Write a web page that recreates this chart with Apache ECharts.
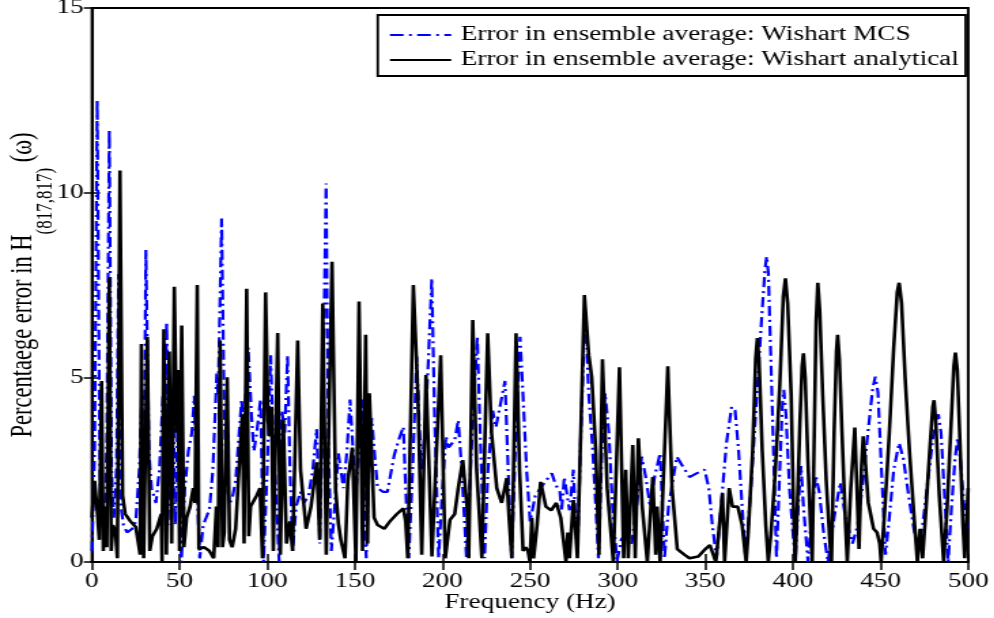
<!DOCTYPE html>
<html>
<head>
<meta charset="utf-8">
<script src="https://cdn.jsdelivr.net/npm/echarts@6/dist/echarts.min.js"></script>
<style>
html,body{margin:0;padding:0;background:#fff;overflow:hidden}
#wrap{width:994px;height:618px;overflow:hidden}
#c{width:731px;height:618px;transform:scaleX(1.36);transform-origin:0 0}
</style>
</head>
<body>
<div id="wrap"><div id="c"></div></div>
<script>
const xTicks = [0, 50, 100, 150, 200, 250, 300, 350, 400, 450, 500];
const yTicks = [0, 5, 10, 15];
const seriesNames = ['Error in ensemble average: Wishart MCS', 'Error in ensemble average: Wishart analytical'];

// [frequency (Hz), percentage error]
const mcsData = [[0,0.3],[1.5,3.0],[3.0,12.5],[4.5,2.5],[5.5,1.2],[6.5,1.5],[7.5,1.0],[8.5,3.5],[9.9,11.7],[11.2,2.5],[12.5,1.2],[14,2.5],[15.2,7.8],[16.5,1.5],[18,1.0],[20,0.8],[23,0.9],[25,1.1],[27,2.5],[28.5,4.5],[29.5,1.5],[30.8,8.45],[32.5,3.0],[34,2.0],[36.5,1.6],[38.5,2.5],[40.5,4.5],[41.5,2.5],[42.6,6.5],[44,3.0],[45,1.0],[46.5,4.0],[47.5,1.0],[49.5,4.8],[51,0],[53,2.0],[55,3.0],[57,3.5],[58.4,4.5],[60,2.0],[61.5,0.1],[63.5,1.0],[66,1.3],[67,1.4],[69,2.5],[71.2,5.1],[72,4.5],[74,9.3],[75.5,4.0],[76.9,2.2],[78.5,1.6],[80,1.7],[82,2.2],[84,3.5],[85.4,4.4],[86.5,3.5],[89.2,5.8],[91,4.0],[92.4,3.0],[94,3.5],[96.2,4.4],[97.9,0],[100,2.5],[102,5.6],[103.5,3.1],[105,2.0],[106.8,0],[108.4,4.1],[110,3.5],[111.6,5.6],[113,2.5],[114.5,0.3],[116.5,1.5],[119,1.9],[121,1.6],[123.6,1.8],[126,2.5],[128.2,3.6],[129,2.5],[130,0.5],[131.5,3.5],[133.6,10.25],[135,3.0],[136.6,0.3],[138.5,1.5],[140.6,2.94],[143.5,2.0],[145.5,3.0],[147.3,4.4],[149,3.0],[150.5,1.9],[152.5,3.0],[154,4.4],[155.5,1.5],[156.5,0.1],[158,2.5],[159.6,3.9],[161.5,2.8],[163,2.0],[166,1.9],[168.6,1.9],[172.5,2.9],[175,3.3],[177.7,3.66],[179,2.0],[180.8,0.1],[183,2.5],[185.3,5.56],[187,3.5],[188,2.5],[190,3.5],[192,5.5],[193.9,7.68],[195.5,4.0],[197.8,0.1],[200,2.0],[202,3.4],[203.5,3.1],[205,3.1],[207,3.3],[209,3.84],[211,2.5],[213.7,0.1],[216,2.5],[218,4.5],[219.9,6.1],[221.5,3.5],[224,0.1],[226,2.5],[228.7,4.1],[230.5,3.65],[232,3.7],[235.7,4.9],[237.5,2.5],[239.5,0.1],[241.5,3.0],[244.3,6.1],[246.5,4.0],[248,2.5],[250,1.1],[253,1.8],[256,2.0],[259,2.2],[262.4,2.4],[264.5,2.1],[267,1.9],[268,1.4],[269.5,2.3],[270.5,2.0],[272.5,1.4],[274.7,2.5],[276,1.0],[277,0.2],[279,3.5],[281.4,6.82],[283.5,4.5],[285.5,3.2],[287.5,1.5],[289,0.1],[291,3.0],[292.8,4.57],[295,3.5],[297,1.5],[299.6,0],[302,0.6],[305,0.8],[308,0.5],[311,1.6],[313.7,2.85],[316,2.3],[318.5,1.5],[321,2.3],[324.2,2.94],[325.5,1.5],[326.7,0.1],[329,1.5],[333.7,2.85],[337,2.6],[341,2.3],[345,2.4],[349.6,2.5],[352,2.0],[354,1.0],[356.4,0.1],[359,1.5],[362,3.2],[365,4.2],[367,4.1],[369,3.0],[371,1.5],[373,0.1],[376,2.0],[379,4.2],[382,6.5],[384,7.9],[385,8.27],[386,7.8],[388,4.5],[389.5,2.0],[390.6,0.1],[392.5,2.5],[394,4.3],[394.8,4.66],[396,4.0],[398,2.0],[401.3,0],[403,1.5],[404.6,2.6],[406,1.5],[408.6,0],[411,1.5],[413,2.34],[415,1.9],[417.5,0.8],[420,0],[423.5,1.2],[427,2.15],[430,1.2],[434,0.5],[437,1.0],[440,2.2],[443,3.6],[445.5,4.7],[447,5.02],[448.5,4.6],[450.5,2.5],[452.8,0.2],[455,1.2],[457.5,2.5],[460.6,3.22],[463,2.8],[466,1.8],[469,0.9],[471.5,0.3],[474,1.0],[477,2.2],[480,3.4],[483,4.0],[484.5,3.5],[486.5,1.8],[488.6,0],[490.5,1.5],[492.5,2.8],[494,3.36],[495.5,2.8],[497.5,1.6],[500,0.9]];

const analyticalData = [[0,1.2],[1.5,2.2],[3,1.4],[4.2,0.6],[5.5,4.9],[6.5,0.3],[7.5,1.5],[8.5,0.4],[9.9,7.7],[11,0.3],[12,1.0],[13.5,0.8],[14.5,0.1],[16,10.6],[17.5,1.8],[19,1.3],[22,1.1],[25,0.95],[27.5,0.2],[28.2,5.9],[29.5,0.1],[31.6,6.1],[33,0.3],[34.5,0.7],[37,0.9],[39.5,1.3],[40,0],[41,6.3],[42.5,0.2],[44.1,5.7],[45.5,0.5],[47,7.45],[48.3,3.5],[49,5.2],[50,0.3],[51.2,6.4],[52.5,0.4],[54,1.2],[56,1.5],[57.8,2.0],[58.8,1.6],[60.1,7.5],[61,0.35],[64,0.4],[67,0.3],[69.5,0.1],[71,1.5],[72,0.4],[73.1,6.0],[74.5,0.4],[75.5,0.8],[77.2,5.0],[78.5,0.6],[80,0.4],[82,0.9],[84.5,3.0],[85.8,4.0],[86.8,0.5],[88.3,7.4],[89.5,0.7],[90.5,1.5],[92,1.5],[94,1.8],[95.9,2.0],[97.3,0.1],[99.1,7.3],[100.5,3.8],[101.5,3.4],[102.5,4.2],[103.5,0.3],[104.5,0.3],[106,6.2],[107.5,0.2],[109.2,3.85],[111,0.5],[113,1.1],[114.5,0.3],[117.4,6.0],[119,2.5],[122.2,0.9],[125,1.5],[128.2,2.7],[130,0.6],[131.7,7.0],[133.7,0.2],[137,8.13],[139,2.0],[140.6,1.05],[142,0.6],[144.4,0.1],[146,2.2],[148.6,3.1],[150.6,0],[152.4,7.05],[154.4,0.3],[156.2,6.15],[157.3,0.5],[158.3,4.57],[161,1.2],[163,1.0],[166.8,0.9],[170,1.1],[174,1.3],[177.7,1.45],[179,1.1],[180.2,0.1],[183.4,7.5],[186,4.5],[188.2,0.2],[190.6,5.06],[194,0.15],[199,5.6],[201.6,0.1],[204.3,1.14],[207,1.3],[209,2.0],[211.6,2.76],[214,1.5],[215,0.1],[217.3,6.55],[219.5,2.5],[222.5,0.1],[225.8,6.19],[228,3.5],[231,2.0],[233.8,1.6],[236.7,2.27],[238,1.2],[239.6,0.1],[242,6.19],[244,2.5],[246,0.3],[247.5,0.4],[248.8,0.3],[249.9,0],[251,1.2],[252,0.1],[254,1.0],[256,2.17],[259,1.5],[262,1.4],[265,1.6],[267.5,1.2],[270.5,0],[271.5,0.8],[272.5,0.1],[274.7,1.68],[277,0.1],[281,7.23],[283.5,5.6],[285.2,5.0],[287.5,3.0],[289.3,0.2],[291.3,5.49],[294,2.0],[297.5,0],[301,5.27],[303.4,0.1],[304.6,2.5],[306,0.1],[308.6,3.17],[310,0.1],[311.8,3.35],[314,1.5],[316.9,0],[320,2.3],[321.7,0.2],[322.5,1.5],[324.2,0],[328.6,5.3],[331,2.0],[334,0.35],[338,0.2],[341,0.1],[346,0.15],[350,0.35],[352.6,0.46],[356,0],[359.8,1.86],[361,0],[363.6,2.0],[365.5,1.5],[368.5,1.5],[371,1.0],[373.3,0],[374.5,0.8],[377,3.0],[378.7,5.5],[379.7,6.06],[380.7,5.4],[382.5,3.0],[384.5,1.0],[385.9,0],[387.5,0.8],[390,2.5],[392.5,4.8],[394.5,7.2],[395.7,7.68],[397,7.0],[399,4.5],[400.3,1.5],[401.3,0],[402.5,1.5],[404,3.8],[405.2,5.3],[406,5.65],[407,5.0],[408.5,2.8],[410,1.0],[411,0],[412,3.0],[413.2,6.5],[414.2,7.56],[415.3,6.8],[417,4.5],[419,2.2],[421,0.6],[422,0],[423.5,3.5],[424.8,5.7],[425.5,6.15],[426.5,5.5],[428,3.5],[430,1.0],[431,0],[433,2.0],[435.3,3.64],[436.5,2.0],[437.7,0.35],[439,2.5],[440.1,3.4],[441.5,2.6],[443,1.6],[446,0.9],[448,0.8],[449.5,0.5],[450.3,0],[452.5,1.5],[455,3.5],[457.5,5.8],[459.5,7.3],[460.6,7.56],[462,7.0],[464,5.0],[466.5,3.0],[469,1.3],[471,0],[472.5,0.9],[474,0.1],[476,1.5],[478,3.0],[479.8,4.2],[480.5,4.38],[481.5,3.8],[483.5,1.8],[486,0],[488,1.5],[490,3.5],[491.8,5.3],[492.7,5.67],[493.8,5.2],[495.5,3.0],[497,1.0],[498,0.1],[499,1.0],[500,2.0]];

const chart = echarts.init(document.getElementById('c'), null, {renderer: 'canvas', width: 731, height: 618});
const FONT = 'Liberation Serif';
chart.setOption({
  animation: false,
  backgroundColor: '#fff',
  textStyle: {fontFamily: FONT, color: '#000'},
  grid: {left: 67.6, right: 19.1, top: 8, bottom: 56, outerBoundsMode: 'none', containLabel: false,
         show: true, borderColor: '#000', borderWidth: 2, backgroundColor: 'transparent'},
  legend: {
    right: 21, top: 15, orient: 'vertical', backgroundColor: '#fff', borderColor: '#000', borderWidth: 1.8,
    borderRadius: 0, padding: [10, 5, 6, 8], itemGap: 5, itemWidth: 45, itemHeight: 14,
    textStyle: {fontFamily: FONT, fontSize: 20, color: '#000', padding: [0, 0, 0, 2]},
    itemStyle: {opacity: 0},
    data: seriesNames
  },
  xAxis: [{
    type: 'value', min: xTicks[0], max: xTicks[xTicks.length - 1], interval: 50,
    name: 'Frequency (Hz)', nameLocation: 'middle', nameGap: 30.5, nameMoveOverlap: false,
    nameTextStyle: {fontFamily: FONT, fontSize: 20, color: '#000'},
    axisLine: {show: true, onZero: false, lineStyle: {color: '#000', width: 2}},
    axisTick: {show: true, inside: true, length: 8, lineStyle: {color: '#000', width: 1.5}},
    splitLine: {show: false},
    axisLabel: {fontFamily: FONT, fontSize: 20, color: '#000', margin: 10}
  }, {
    type: 'value', position: 'top', min: 0, max: 500, interval: 50,
    axisLine: {show: true, lineStyle: {color: '#000', width: 2}},
    axisTick: {show: true, inside: true, length: 8, lineStyle: {color: '#000', width: 1.5}},
    axisLabel: {show: false}, splitLine: {show: false}
  }],
  yAxis: [{
    type: 'value', min: yTicks[0], max: yTicks[yTicks.length - 1], interval: 5,
    name: '{a|Percentaege error in H}{s|(817,817)}{a| (ω)}{z|\u200b}', nameLocation: 'middle', nameGap: 25.6, nameRotate: 90,
    nameMoveOverlap: false,
    nameTextStyle: {
      fontFamily: FONT, color: '#000',
      rich: {
        a: {fontFamily: FONT, fontSize: 22.5, color: '#000', lineHeight: 24, verticalAlign: 'top'},
        s: {fontFamily: FONT, fontSize: 17, color: '#000', lineHeight: 19, verticalAlign: 'bottom'},
        z: {fontFamily: FONT, fontSize: 2, color: '#000', lineHeight: 36.7, verticalAlign: 'middle'}
      }
    },
    axisLine: {show: true, onZero: false, lineStyle: {color: '#000', width: 2}},
    axisTick: {show: true, inside: true, length: 6, lineStyle: {color: '#000', width: 1.5}},
    splitLine: {show: false},
    axisLabel: {fontFamily: FONT, fontSize: 20, color: '#000', margin: 6}
  }, {
    type: 'value', position: 'right', min: 0, max: 15, interval: 5,
    axisLine: {show: true, lineStyle: {color: '#000', width: 2}},
    axisTick: {show: true, inside: true, length: 6, lineStyle: {color: '#000', width: 1.5}},
    axisLabel: {show: false}, splitLine: {show: false}
  }],
  series: [{
    name: seriesNames[0], type: 'line', data: mcsData, showSymbol: false, symbol: 'none',
    lineStyle: {color: '#0000ff', width: 2.2, type: [10, 4, 2, 4]}, itemStyle: {color: '#0000ff'}, z: 2
  }, {
    name: seriesNames[1], type: 'line', data: analyticalData, showSymbol: false, symbol: 'none',
    lineStyle: {color: '#000', width: 2.6}, itemStyle: {color: '#000'}, z: 3
  }]
});
</script>
</body>
</html>
